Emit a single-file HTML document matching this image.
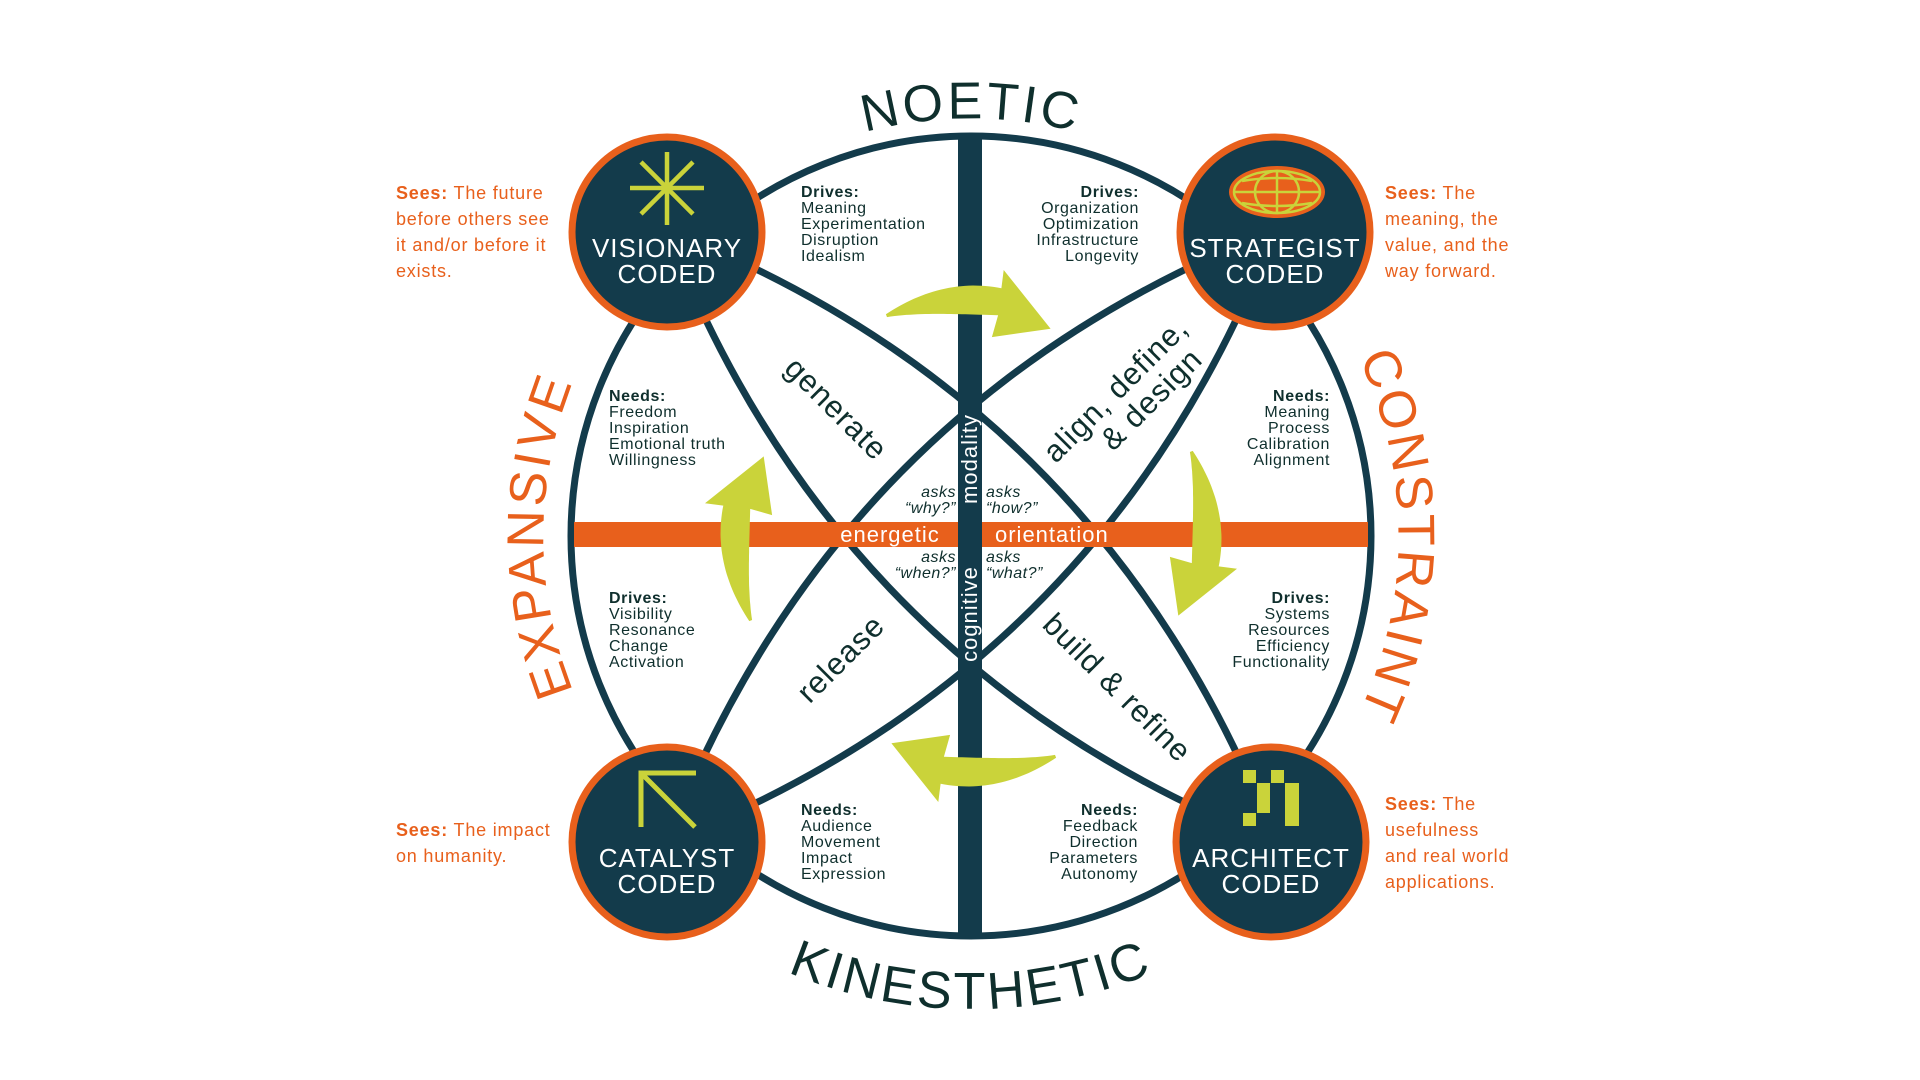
<!DOCTYPE html>
<html><head><meta charset="utf-8"><style>
html,body{margin:0;padding:0;background:#fff;}
svg{display:block;}
text{font-family:"Liberation Sans",sans-serif;}
.d{fill:#0f2f2d;font-size:16px;letter-spacing:0.6px;}
.b{font-weight:bold;}
.s{fill:#e8601c;font-size:18px;letter-spacing:0.8px;}
.big{fill:#0f2f2d;font-size:52px;letter-spacing:3px;}
.bigo{fill:#e8601c;font-size:52px;letter-spacing:3px;}
.act{fill:#0f2f2d;font-size:31px;letter-spacing:1px;}
.ask{fill:#0f2f2d;font-size:16px;font-style:italic;letter-spacing:0.5px;}
.w{fill:#fff;}
.node{fill:#fff;font-size:26px;letter-spacing:1px;}
</style></head><body>
<svg id="s" width="1920" height="1080" viewBox="0 0 1920 1080" xmlns="http://www.w3.org/2000/svg">
<defs>
<path id="pN" d="M 703 216 A 417 417 0 0 1 1239 216"/>
<path id="pK" d="M 588 813 A 472 472 0 0 0 1354 813"/>
<path id="pE" d="M 680 845 A 418 418 0 0 1 680 227"/>
<path id="pC" d="M 1262 227 A 418 418 0 0 1 1262 845"/>
</defs>
<circle cx="971" cy="536" r="400" fill="#fff" stroke="#133b4b" stroke-width="7"/>
<g fill="none" stroke="#133b4b" stroke-width="7">
<path d="M667,230 Q1105,402 1275,842"/>
<path d="M667,230 Q837,670 1275,842"/>
<path d="M1275,230 Q837,402 667,842"/>
<path d="M1275,230 Q1105,670 667,842"/>
</g>
<rect x="574" y="522" width="794" height="25" fill="#e8601c"/>
<rect x="958" y="136" width="24" height="800" fill="#133b4b"/>
<text x="890" y="542" class="w" font-size="22" text-anchor="middle" letter-spacing="1">energetic</text>
<text x="995" y="542" class="w" font-size="22" letter-spacing="1">orientation</text>
<text transform="translate(977,459) rotate(-90)" class="w" font-size="22" text-anchor="middle" letter-spacing="1">modality</text>
<text transform="translate(977,614) rotate(-90)" class="w" font-size="22" text-anchor="middle" letter-spacing="1">cognitive</text>
<text x="956" y="497" class="ask" text-anchor="end">asks</text>
<text x="956" y="513" class="ask" text-anchor="end">“why?”</text>
<text x="986" y="497" class="ask">asks</text>
<text x="986" y="513" class="ask">“how?”</text>
<text x="956" y="562" class="ask" text-anchor="end">asks</text>
<text x="956" y="578" class="ask" text-anchor="end">“when?”</text>
<text x="986" y="562" class="ask">asks</text>
<text x="986" y="578" class="ask">“what?”</text>
<text transform="translate(836,409) rotate(45)" class="act" text-anchor="middle" dy="10">generate</text>
<text transform="translate(841,659) rotate(-45)" class="act" text-anchor="middle" dy="10">release</text>
<text transform="translate(1117,688) rotate(45)" class="act" text-anchor="middle" dy="10">build &amp; refine</text>
<g transform="translate(1190,330) rotate(-45)">
<text class="act" text-anchor="end" x="0" y="0">align, define,</text>
<text class="act" text-anchor="end" x="-12" y="32">&amp; design</text>
</g>
<g id="arrows" fill="#cad33a"></g>
<g class="d">
<text x="801" y="197"><tspan class="b">Drives:</tspan><tspan x="801" dy="16">Meaning</tspan><tspan x="801" dy="16">Experimentation</tspan><tspan x="801" dy="16">Disruption</tspan><tspan x="801" dy="16">Idealism</tspan></text>
<text x="1139" y="197" text-anchor="end"><tspan class="b">Drives:</tspan><tspan x="1139" dy="16">Organization</tspan><tspan x="1139" dy="16">Optimization</tspan><tspan x="1139" dy="16">Infrastructure</tspan><tspan x="1139" dy="16">Longevity</tspan></text>
<text x="609" y="401"><tspan class="b">Needs:</tspan><tspan x="609" dy="16">Freedom</tspan><tspan x="609" dy="16">Inspiration</tspan><tspan x="609" dy="16">Emotional truth</tspan><tspan x="609" dy="16">Willingness</tspan></text>
<text x="1330" y="401" text-anchor="end"><tspan class="b">Needs:</tspan><tspan x="1330" dy="16">Meaning</tspan><tspan x="1330" dy="16">Process</tspan><tspan x="1330" dy="16">Calibration</tspan><tspan x="1330" dy="16">Alignment</tspan></text>
<text x="609" y="603"><tspan class="b">Drives:</tspan><tspan x="609" dy="16">Visibility</tspan><tspan x="609" dy="16">Resonance</tspan><tspan x="609" dy="16">Change</tspan><tspan x="609" dy="16">Activation</tspan></text>
<text x="1330" y="603" text-anchor="end"><tspan class="b">Drives:</tspan><tspan x="1330" dy="16">Systems</tspan><tspan x="1330" dy="16">Resources</tspan><tspan x="1330" dy="16">Efficiency</tspan><tspan x="1330" dy="16">Functionality</tspan></text>
<text x="801" y="815"><tspan class="b">Needs:</tspan><tspan x="801" dy="16">Audience</tspan><tspan x="801" dy="16">Movement</tspan><tspan x="801" dy="16">Impact</tspan><tspan x="801" dy="16">Expression</tspan></text>
<text x="1138" y="815" text-anchor="end"><tspan class="b">Needs:</tspan><tspan x="1138" dy="16">Feedback</tspan><tspan x="1138" dy="16">Direction</tspan><tspan x="1138" dy="16">Parameters</tspan><tspan x="1138" dy="16">Autonomy</tspan></text>
</g>
<g stroke="#e8601c" stroke-width="7" fill="#133b4b">
<circle cx="667" cy="232" r="95"/>
<circle cx="1275" cy="232" r="95"/>
<circle cx="667" cy="842" r="95"/>
<circle cx="1271" cy="842" r="95"/>
</g>
<g stroke="#cad33a" stroke-width="4.5" stroke-linecap="butt">
<line x1="667" y1="152" x2="667" y2="225"/>
<line x1="630" y1="188" x2="704" y2="188"/>
<line x1="641" y1="162" x2="693" y2="214"/>
<line x1="693" y1="162" x2="641" y2="214"/>
</g>
<ellipse cx="1277" cy="192" rx="48" ry="26" fill="#e8601c"/>
<g fill="none" stroke="#cad33a" stroke-width="2.5">
<ellipse cx="1277" cy="192" rx="43" ry="21"/>
<ellipse cx="1277" cy="192" rx="22" ry="21"/>
<line x1="1277" y1="171" x2="1277" y2="213"/>
<line x1="1234" y1="192" x2="1320" y2="192"/>
<path d="M1242,181 Q1277,175 1312,181"/>
<path d="M1242,203 Q1277,209 1312,203"/>
</g>
<g stroke="#cad33a" stroke-width="5" fill="none">
<path d="M696,773 L641,773 L641,827"/>
<line x1="641" y1="773" x2="695" y2="827"/>
</g>
<g fill="#cad33a">
<rect x="1243" y="770" width="13" height="13"/>
<rect x="1257" y="783" width="13" height="30"/>
<rect x="1271" y="770" width="13" height="13"/>
<rect x="1285" y="783" width="14" height="43"/>
<rect x="1243" y="813" width="13" height="13"/>
</g>
<g class="node" text-anchor="middle">
<text x="667" y="257">VISIONARY</text><text x="667" y="283">CODED</text>
<text x="1275" y="257">STRATEGIST</text><text x="1275" y="283">CODED</text>
<text x="667" y="867">CATALYST</text><text x="667" y="893">CODED</text>
<text x="1271" y="867">ARCHITECT</text><text x="1271" y="893">CODED</text>
</g>
<g class="s">
<text x="396" y="199"><tspan font-weight="bold">Sees:</tspan> The future<tspan x="396" dy="26">before others see</tspan><tspan x="396" dy="26">it and/or before it</tspan><tspan x="396" dy="26">exists.</tspan></text>
<text x="1385" y="199"><tspan font-weight="bold">Sees:</tspan> The<tspan x="1385" dy="26">meaning, the</tspan><tspan x="1385" dy="26">value, and the</tspan><tspan x="1385" dy="26">way forward.</tspan></text>
<text x="396" y="836"><tspan font-weight="bold">Sees:</tspan> The impact<tspan x="396" dy="26">on humanity.</tspan></text>
<text x="1385" y="810"><tspan font-weight="bold">Sees:</tspan> The<tspan x="1385" dy="26">usefulness</tspan><tspan x="1385" dy="26">and real world</tspan><tspan x="1385" dy="26">applications.</tspan></text>
</g>
<text class="big"><textPath href="#pN" startOffset="50%" text-anchor="middle">NOETIC</textPath></text>
<text class="big"><textPath href="#pK" startOffset="50%" text-anchor="middle">KINESTHETIC</textPath></text>
<text class="bigo"><textPath href="#pE" startOffset="50%" text-anchor="middle">EXPANSIVE</textPath></text>
<text class="bigo"><textPath href="#pC" startOffset="50%" text-anchor="middle">CONSTRAINT</textPath></text>
</svg>
<script>
(function(){
var g=document.getElementById('arrows'),cx=971,cy=536,r=236,D=Math.PI/180;
function P(a,rr){return (cx+rr*Math.cos(a*D)).toFixed(1)+','+(cy+rr*Math.sin(a*D)).toFixed(1);}
[-90,0,90,180].forEach(function(c){
 var a0=c-21,a1=c+7,n=30,out=[],inn=[];
 for(var i=0;i<=n;i++){var t=i/n,a=a0+(a1-a0)*t,w=3+26*Math.sin(t*Math.PI*0.62);
  out.push(P(a,r+w/2));inn.unshift(P(a,r-w/2));}
 var pts=out.concat([P(a1,r+32),P(c+21,r-14),P(a1-1,r-36)]).concat(inn);
 var p=document.createElementNS('http://www.w3.org/2000/svg','polygon');
 p.setAttribute('points',pts.join(' '));g.appendChild(p);
});
})();
</script>
</body></html>
